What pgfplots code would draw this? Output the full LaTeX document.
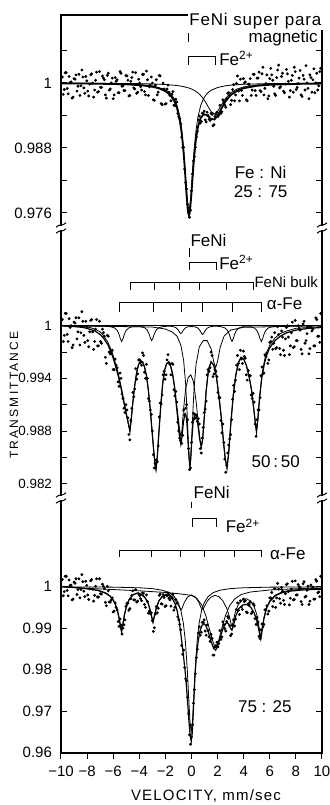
\documentclass[border=0pt]{standalone}
\usepackage{fontspec}
\setmainfont{Liberation Sans}
\newfontfamily\spacedfont[LetterSpace=18]{Liberation Sans}
\newfontfamily\spacedfontb[LetterSpace=8]{Liberation Sans}
\newfontfamily\spacedfontc[LetterSpace=5]{Liberation Sans}
\usepackage{pgfplots}
\pgfplotsset{compat=1.18}
\pgfplotsset{
  panel/.style={
    scale only axis, width=130.5pt, anchor=south west, xmin=-10, xmax=10,
    separate axis lines, x axis line style={draw=none},
    y axis line style={line width=0.7pt},
    tick align=inside, major tick length=3pt, minor tick length=3pt,
    every tick/.style={black, line width=0.5pt},
    clip=false,
    yticklabel style={font=\fontsize{7.5}{9}\selectfont, xshift=-1pt},
    xticklabel style={font=\fontsize{7.5}{9}\selectfont},
  },
  dots/.style={only marks, mark=*, mark size=0.5pt, black},
  fit/.style={black, line width=0.9pt, no marks},
  mfit/.style={black, line width=0.6pt, no marks},
  thin/.style={black, line width=0.4pt, no marks},
}
\newcommand{\ann}{\fontsize{8.5}{10}\selectfont}
\begin{document}
\begin{tikzpicture}[x=1pt,y=1pt]
\useasboundingbox (0,0) rectangle (164.5,402.5);
% ---------------- top panel: Fe:Ni 25:75
\begin{axis}[panel, at={(30.5pt,288.5pt)}, height=106.5pt,
  ymin=0.97323, ymax=1.01255, xtick=\empty,
  ytick={0.976,0.988,1}, yticklabels={0.976,0.988,1},
  minor ytick={0.982,0.994,1.006}]
\addplot[dots] coordinates {(-9.9,1.0011) (-9.75,0.9988) (-9.6,1.0019) (-9.45,0.9980) (-9.3,1.0001) (-9.15,0.9972) (-9.0,1.0008) (-8.85,1.0015) (-8.7,0.9994) (-8.55,0.9977) (-8.4,1.0024) (-8.25,0.9991) (-8.1,1.0012) (-7.95,0.9985) (-7.8,0.9998) (-7.65,1.0017) (-7.5,0.9974) (-7.35,1.0005) (-7.2,0.9983) (-7.05,1.0021) (-6.9,0.9992) (-6.75,1.0009) (-6.6,0.9978) (-6.45,1.0014) (-6.3,0.9987) (-6.15,1.0000) (-6.0,0.9971) (-5.85,1.0010) (-5.7,1.0006) (-5.55,0.9982) (-5.4,1.0018) (-5.25,0.9995) (-5.1,0.9986) (-4.95,1.0013) (-4.8,0.9976) (-4.65,1.0003) (-4.5,1.0020) (-4.35,0.9989) (-4.2,0.9981) (-4.05,1.0007) (-3.9,0.9993) (-3.75,1.0016) (-3.6,0.9984) (-3.45,1.0022) (-3.3,0.9977) (-3.15,0.9996) (-3.0,1.0000) (-2.85,0.9968) (-2.7,1.0006) (-2.55,0.9983) (-2.4,1.0013) (-2.25,0.9960) (-2.1,0.9989) (-1.95,0.9962) (-1.8,0.9996) (-1.65,0.9977) (-1.5,0.9979) (-1.35,0.9959) (-1.2,0.9970) (-1.05,0.9944) (-0.9,0.9934) (-0.75,0.9900) (-0.6,0.9881) (-0.45,0.9816) (-0.3,0.9776) (-0.15,0.9752) (0,0.9801) (0.15,0.9856) (0.3,0.9881) (0.45,0.9911) (0.6,0.9939) (0.75,0.9929) (0.9,0.9944) (1.05,0.9932) (1.2,0.9946) (1.35,0.9933) (1.5,0.9944) (1.65,0.9921) (1.8,0.9938) (1.95,0.9946) (2.1,0.9941) (2.25,0.9944) (2.4,0.9969) (2.55,0.9959) (2.7,0.9970) (2.85,0.9982) (3.0,0.9960) (3.15,0.9988) (3.3,0.9967) (3.45,0.9999) (3.6,0.9985) (3.75,1.0007) (3.9,0.9977) (4.05,1.0000) (4.2,0.9969) (4.35,0.9998) (4.5,1.0008) (4.65,0.9987) (4.8,1.0016) (4.95,0.9977) (5.1,1.0009) (5.25,0.9986) (5.4,1.0017) (5.55,0.9978) (5.7,0.9999) (5.85,0.9971) (6.0,1.0008) (6.15,1.0015) (6.3,0.9994) (6.45,0.9977) (6.6,1.0024) (6.75,0.9991) (6.9,1.0012) (7.05,0.9985) (7.2,0.9998) (7.35,1.0017) (7.5,0.9974) (7.65,1.0005) (7.8,0.9983) (7.95,1.0021) (8.1,0.9992) (8.25,1.0009) (8.4,0.9978) (8.55,1.0014) (8.7,0.9987) (8.85,1.0000) (9.0,0.9971) (9.15,1.0010) (9.3,1.0006) (9.45,0.9982) (9.6,1.0018) (9.75,0.9995) (9.9,1.0027)};
\addplot[dots] coordinates {(-9.825,0.9979) (-9.675,1.0019) (-9.525,0.9990) (-9.375,1.0012) (-9.225,1.0002) (-9.075,0.9974) (-8.925,1.0007) (-8.775,0.9985) (-8.625,1.0016) (-8.475,0.9995) (-8.325,1.0011) (-8.175,0.9981) (-8.025,1.0004) (-7.875,0.9976) (-7.725,1.0015) (-7.575,1.0000) (-7.425,0.9987) (-7.275,1.0020) (-7.125,0.9984) (-6.975,0.9992) (-6.825,1.0013) (-6.675,1.0006) (-6.525,0.9972) (-6.375,1.0018) (-6.225,0.9989) (-6.075,1.0009) (-5.925,0.9978) (-5.775,1.0003) (-5.625,0.9982) (-5.475,1.0021) (-5.325,0.9994) (-5.175,0.9986) (-5.025,1.0014) (-4.875,1.0005) (-4.725,0.9977) (-4.575,1.0010) (-4.425,0.9991) (-4.275,1.0019) (-4.125,0.9983) (-3.975,1.0000) (-3.825,0.9987) (-3.675,1.0016) (-3.525,0.9978) (-3.375,1.0006) (-3.225,0.9993) (-3.075,1.0011) (-2.925,0.9969) (-2.775,0.9996) (-2.625,0.9978) (-2.475,1.0014) (-2.325,0.9962) (-2.175,1.0000) (-2.025,0.9961) (-1.875,0.9989) (-1.725,0.9983) (-1.575,0.9967) (-1.425,0.9984) (-1.275,0.9958) (-1.125,0.9965) (-0.975,0.9938) (-0.825,0.9925) (-0.675,0.9881) (-0.525,0.9841) (-0.375,0.9804) (-0.225,0.9762) (-0.075,0.9765) (0.075,0.9832) (0.225,0.9864) (0.375,0.9900) (0.525,0.9932) (0.675,0.9926) (0.825,0.9944) (0.975,0.9948) (1.125,0.9928) (1.275,0.9940) (1.425,0.9931) (1.575,0.9942) (1.725,0.9923) (1.875,0.9942) (2.025,0.9938) (2.175,0.9959) (2.325,0.9947) (2.475,0.9965) (2.625,0.9955) (2.775,0.9981) (2.925,0.9977) (3.075,0.9968) (3.225,0.9997) (3.375,0.9978) (3.525,1.0013) (3.675,0.9967) (3.825,0.9986) (3.975,1.0008) (4.125,1.0002) (4.275,0.9967) (4.425,0.9997) (4.575,0.9977) (4.725,1.0016) (4.875,0.9986) (5.025,1.0009) (5.175,1.0020) (5.325,0.9984) (5.475,1.0029) (5.625,0.9990) (5.775,1.0015) (5.925,0.9976) (6.075,1.0027) (6.225,1.0005) (6.375,0.9980) (6.525,1.0010) (6.675,1.0033) (6.825,0.9993) (6.975,1.0018) (7.125,0.9982) (7.275,1.0025) (7.425,1.0003) (7.575,0.9986) (7.725,1.0014) (7.875,1.0029) (8.025,0.9988) (8.175,0.9999) (8.325,1.0023) (8.475,0.9975) (8.625,1.0007) (8.775,1.0032) (8.925,0.9990) (9.075,1.0015) (9.225,0.9983) (9.375,1.0026) (9.525,1.0000) (9.675,0.9987) (9.825,1.0021)};
% singlet component
\addplot[thin] coordinates {(-10,0.99996) (-6,0.99988) (-4,0.99972) (-3,0.99948) (-2,0.99879) (-1.6,0.99806) (-1.3,0.99701) (-1.1,0.9958) (-0.9,0.99378) (-0.75,0.99134) (-0.6,0.98768) (-0.5,0.98444) (-0.4,0.98085) (-0.3,0.97776) (-0.2,0.9765) (-0.1,0.97776) (0,0.98085) (0.1,0.98444) (0.2,0.98768) (0.35,0.99134) (0.5,0.99378) (0.7,0.9958) (0.9,0.99701) (1.1,0.99778) (1.3,0.99829) (1.5,0.99865) (2,0.99917) (2.6,0.99948) (3,0.9996) (4,0.99977) (6,0.99989) (10,0.99996)};
% Fe2+ component
\addplot[thin] coordinates {(-10,0.99997) (-6,0.99993) (-4,0.99988) (-3,0.99982) (-2,0.99972) (-1.3,0.99958) (-0.9,0.99946) (-0.5,0.99927) (-0.2,0.99907) (0,0.99889) (0.2,0.99866) (0.35,0.99844) (0.5,0.99817) (0.7,0.99771) (0.9,0.99712) (1.1,0.99637) (1.3,0.99552) (1.5,0.99474) (1.75,0.9943) (2.0,0.99474) (2.3,0.99596) (2.6,0.99712) (3.0,0.99817) (3.5,0.99889) (4,0.99927) (5,0.99963) (6,0.99978) (8,0.99989) (10,0.99994)};
% total fit
\addplot[fit] coordinates {(-10,0.99993) (-8,0.99989) (-6,0.99981) (-5,0.99976) (-4,0.99959) (-3.5,0.99948) (-3,0.99930) (-2.5,0.99902) (-2,0.99850) (-1.6,0.99771) (-1.3,0.99659) (-1.1,0.99532) (-0.9,0.99324) (-0.75,0.99074) (-0.6,0.98701) (-0.5,0.98371) (-0.4,0.98006) (-0.3,0.97691) (-0.25,0.97594) (-0.2,0.97557) (-0.15,0.97586) (-0.1,0.97675) (0,0.97974) (0.1,0.98322) (0.2,0.98634) (0.35,0.98978) (0.5,0.99195) (0.7,0.99351) (0.9,0.99413) (1.1,0.99415) (1.3,0.99381) (1.5,0.99339) (1.75,0.99326) (2.0,0.99392) (2.3,0.99531) (2.6,0.99660) (3.0,0.99777) (3.5,0.99859) (4,0.99904) (5,0.99948) (6,0.99967) (8,0.99983) (10,0.99990)};
% markers
\draw[line width=0.5pt] (-0.24,1.0092) -- (-0.24,1.0076);
\draw[line width=0.5pt] (-0.24,1.0033) -- (-0.24,1.0048) -- (1.85,1.0048) -- (1.85,1.0033);
\node[anchor=base west, inner sep=0pt, font=\ann] at (2.1,1.0033) {Fe\textsuperscript{2+}};
\node[anchor=base east, inner sep=0pt, font=\ann] at (9.7,1.0074) {magnetic};
\coordinate (fenitop) at (-0.29,1.0107);
\node[anchor=base, inner sep=0pt, font=\ann] at (5.3,0.98246) {Fe : Ni};
\node[anchor=base, inner sep=0pt, font=\ann] at (5.3,0.97877) {25 : 75};
\end{axis}
% ---------------- middle panel: 50:50
\begin{axis}[panel, at={(30.5pt,153.5pt)}, height=135pt,
  ymin=0.98037, ymax=1.01113, xtick=\empty,
  ytick={0.982,0.988,0.994,1}, yticklabels={0.982,0.988,0.994,1},
  minor ytick={0.985,0.991,0.997},
  yticklabel style={font=\fontsize{6.7}{8}\selectfont}]
\addplot[dots] coordinates {(-9.9,1.0007) (-9.75,0.9989) (-9.6,1.0014) (-9.45,0.9982) (-9.3,0.9998) (-9.15,0.9975) (-9.0,1.0004) (-8.85,1.0009) (-8.7,0.9993) (-8.55,0.9978) (-8.4,1.0016) (-8.25,0.9989) (-8.1,1.0005) (-7.95,0.9983) (-7.8,0.9993) (-7.65,1.0007) (-7.5,0.9973) (-7.35,0.9996) (-7.2,0.9977) (-7.05,1.0005) (-6.9,0.9980) (-6.75,0.9992) (-6.6,0.9964) (-6.45,0.9989) (-6.3,0.9970) (-6.15,0.9970) (-6.0,0.9950) (-5.85,0.9962) (-5.7,0.9952) (-5.55,0.9931) (-5.4,0.9940) (-5.25,0.9917) (-5.1,0.9901) (-4.95,0.9904) (-4.8,0.9876) (-4.65,0.9892) (-4.5,0.9924) (-4.35,0.9928) (-4.2,0.9939) (-4.05,0.9961) (-3.9,0.9958) (-3.75,0.9969) (-3.6,0.9947) (-3.45,0.9956) (-3.3,0.9917) (-3.15,0.9904) (-3.0,0.9880) (-2.85,0.9838) (-2.7,0.9847) (-2.55,0.9863) (-2.4,0.9912) (-2.25,0.9921) (-2.1,0.9948) (-1.95,0.9944) (-1.8,0.9967) (-1.65,0.9956) (-1.5,0.9957) (-1.35,0.9927) (-1.2,0.9925) (-1.05,0.9890) (-0.9,0.9872) (-0.75,0.9866) (-0.6,0.9904) (-0.45,0.9906) (-0.3,0.9893) (-0.15,0.9836) (0,0.9867) (0.15,0.9900) (0.3,0.9895) (0.45,0.9891) (0.6,0.9888) (0.75,0.9855) (0.9,0.9884) (1.05,0.9905) (1.2,0.9944) (1.35,0.9948) (1.5,0.9970) (1.65,0.9942) (1.8,0.9950) (1.95,0.9942) (2.1,0.9918) (2.25,0.9892) (2.4,0.9888) (2.55,0.9848) (2.7,0.9841) (2.85,0.9864) (3.0,0.9876) (3.15,0.9916) (3.3,0.9925) (3.45,0.9955) (3.6,0.9957) (3.75,0.9972) (3.9,0.9957) (4.05,0.9965) (4.2,0.9944) (4.35,0.9949) (4.5,0.9943) (4.65,0.9917) (4.8,0.9913) (4.95,0.9874) (5.1,0.9904) (5.25,0.9918) (5.4,0.9953) (5.55,0.9946) (5.7,0.9965) (5.85,0.9957) (6.0,0.9981) (6.15,0.9987) (6.3,0.9980) (6.45,0.9974) (6.6,0.9999) (6.75,0.9974) (6.9,0.9994) (7.05,0.9972) (7.2,0.9985) (7.35,1.0000) (7.5,0.9967) (7.65,0.9992) (7.8,0.9975) (7.95,1.0006) (8.1,0.9983) (8.25,0.9997) (8.4,0.9973) (8.55,1.0002) (8.7,0.9980) (8.85,0.9991) (9.0,0.9968) (9.15,0.9999) (9.3,0.9996) (9.45,0.9977) (9.6,1.0007) (9.75,0.9988) (9.9,1.0014)};
\addplot[dots] coordinates {(-9.825,0.9982) (-9.675,1.0014) (-9.525,0.9990) (-9.375,1.0008) (-9.225,1.0000) (-9.075,0.9978) (-8.925,1.0003) (-8.775,0.9985) (-8.625,1.0009) (-8.475,0.9992) (-8.325,1.0005) (-8.175,0.9981) (-8.025,0.9999) (-7.875,0.9976) (-7.725,1.0006) (-7.575,0.9993) (-7.425,0.9982) (-7.275,1.0007) (-7.125,0.9977) (-6.975,0.9982) (-6.825,0.9996) (-6.675,0.9988) (-6.525,0.9957) (-6.375,0.9988) (-6.225,0.9968) (-6.075,0.9972) (-5.925,0.9950) (-5.775,0.9955) (-5.625,0.9936) (-5.475,0.9946) (-5.325,0.9922) (-5.175,0.9906) (-5.025,0.9910) (-4.875,0.9895) (-4.725,0.9870) (-4.575,0.9906) (-4.425,0.9919) (-4.275,0.9951) (-4.125,0.9945) (-3.975,0.9961) (-3.825,0.9955) (-3.675,0.9966) (-3.525,0.9940) (-3.375,0.9940) (-3.225,0.9914) (-3.075,0.9899) (-2.925,0.9853) (-2.775,0.9843) (-2.625,0.9845) (-2.475,0.9896) (-2.325,0.9911) (-2.175,0.9944) (-2.025,0.9939) (-1.875,0.9961) (-1.725,0.9958) (-1.575,0.9944) (-1.425,0.9956) (-1.275,0.9920) (-1.125,0.9913) (-0.975,0.9880) (-0.825,0.9869) (-0.675,0.9875) (-0.525,0.9898) (-0.375,0.9910) (-0.225,0.9860) (-0.075,0.9838) (0.075,0.9890) (0.225,0.9894) (0.375,0.9898) (0.525,0.9894) (0.675,0.9860) (0.825,0.9872) (0.975,0.9901) (1.125,0.9914) (1.275,0.9950) (1.425,0.9952) (1.575,0.9966) (1.725,0.9945) (1.875,0.9948) (2.025,0.9924) (2.175,0.9918) (2.325,0.9878) (2.475,0.9867) (2.625,0.9833) (2.775,0.9855) (2.925,0.9871) (3.075,0.9893) (3.225,0.9932) (3.375,0.9938) (3.525,0.9966) (3.675,0.9950) (3.825,0.9962) (3.975,0.9971) (4.125,0.9963) (4.275,0.9938) (4.425,0.9943) (4.575,0.9921) (4.725,0.9923) (4.875,0.9888) (5.025,0.9893) (5.175,0.9904) (5.325,0.9943) (5.475,0.9945) (5.625,0.9967) (5.775,0.9969) (5.925,0.9961) (6.075,0.9982) (6.225,0.9973) (6.375,0.9992) (6.525,0.9975) (6.675,0.9990) (6.825,0.9967) (6.975,0.9987) (7.125,0.9966) (7.275,0.9998) (7.425,0.9987) (7.575,0.9977) (7.725,1.0004) (7.875,0.9976) (8.025,0.9983) (8.175,1.0000) (8.325,0.9995) (8.475,0.9968) (8.625,1.0005) (8.775,0.9983) (8.925,0.9999) (9.075,0.9974) (9.225,0.9994) (9.375,0.9977) (9.525,1.0009) (9.675,0.9988) (9.825,0.9981)};
% baseline
\addplot[thin] coordinates {(-10,1) (10,1)};
% alpha-Fe component
\addplot[thin] coordinates {(-10,1) (-6.55,0.99994) (-6.15,0.99987) (-5.9,0.99975) (-5.7,0.99949) (-5.55,0.99901) (-5.45,0.99851) (-5.35,0.9982) (-5.25,0.99851) (-5.15,0.99901) (-5.0,0.99949) (-4.8,0.99975) (-4.55,0.99987) (-4.2,0.99988) (-3.85,0.99988) (-3.6,0.99977) (-3.4,0.99952) (-3.25,0.99907) (-3.15,0.99859) (-3.05,0.9983) (-2.95,0.99859) (-2.85,0.99907) (-2.7,0.99952) (-2.5,0.99977) (-2.25,0.99988) (-1.85,0.99994) (-1.62,0.99994) (-1.37,0.99988) (-1.17,0.99975) (-1.02,0.99951) (-0.92,0.99925) (-0.82,0.9991) (-0.72,0.99925) (-0.62,0.99951) (-0.47,0.99975) (-0.27,0.99988) (0.02,0.9999) (0.3,0.99986) (0.5,0.99972) (0.65,0.99945) (0.75,0.99917) (0.85,0.999) (0.95,0.99917) (1.05,0.99945) (1.2,0.99972) (1.4,0.99986) (1.65,0.99993) (2.0,0.99994) (2.3,0.99987) (2.55,0.99975) (2.75,0.99949) (2.9,0.99901) (3.0,0.99851) (3.1,0.9982) (3.2,0.99851) (3.3,0.99901) (3.45,0.99949) (3.65,0.99975) (3.9,0.99987) (4.225,0.99988) (4.55,0.99987) (4.8,0.99975) (5.0,0.99949) (5.15,0.99901) (5.25,0.99851) (5.35,0.9982) (5.45,0.99851) (5.55,0.99901) (5.7,0.99949) (5.9,0.99975) (6.15,0.99987) (6.55,0.99994) (10,1)};
% FeNi singlet + Fe2+ component
\addplot[thin] coordinates {(-10,1) (-3,0.99985) (-2,0.99962) (-1.5,0.9993) (-1.1,0.9988) (-0.8,0.9977) (-0.6,0.9960) (-0.45,0.9934) (-0.35,0.99057) (-0.25,0.9870) (-0.18,0.9849) (-0.12,0.9842) (-0.06,0.9849) (0,0.9865) (0.1,0.9900) (0.2,0.9929) (0.35,0.9956) (0.6,0.9976) (0.9,0.99830) (1.2,0.9983) (1.5,0.99737) (1.7,0.9959) (1.85,0.99523) (2.0,0.99596) (2.2,0.99755) (2.5,0.99883) (3,0.9995) (4,0.99982) (10,1)};
% FeNi bulk component
\addplot[thin] coordinates {(-10,1.0000) (-9,0.9999) (-8.3,0.9999) (-7.8,0.9998) (-7.4,0.9996) (-7.0,0.9993) (-6.7,0.9988) (-6.4,0.9981) (-6.2,0.9974) (-6.0,0.9966) (-5.8,0.9956) (-5.6,0.9945) (-5.4,0.9931) (-5.2,0.9916) (-5.05,0.9904) (-4.92,0.9895) (-4.82,0.9887) (-4.72,0.9880) (-4.62,0.9893) (-4.5,0.9912) (-4.35,0.9932) (-4.2,0.9947) (-4.05,0.9956) (-3.9,0.9960) (-3.75,0.9959) (-3.6,0.9953) (-3.45,0.9943) (-3.3,0.9926) (-3.15,0.9903) (-3.0,0.9876) (-2.88,0.9855) (-2.8,0.9842) (-2.72,0.9836) (-2.62,0.9851) (-2.5,0.9878) (-2.35,0.9910) (-2.2,0.9935) (-2.05,0.9950) (-1.9,0.9957) (-1.75,0.9958) (-1.6,0.9954) (-1.45,0.9945) (-1.3,0.9931) (-1.15,0.9912) (-1.0,0.9893) (-0.9,0.9880) (-0.82,0.9874) (-0.74,0.9880) (-0.62,0.9903) (-0.45,0.9928) (-0.25,0.9941) (-0.05,0.9944) (0.15,0.9936) (0.35,0.9914) (0.5,0.9892) (0.65,0.9870) (0.75,0.9862) (0.85,0.9870) (0.98,0.9895) (1.12,0.9925) (1.3,0.9950) (1.5,0.9959) (1.7,0.9955) (1.9,0.9943) (2.1,0.9920) (2.3,0.9893) (2.45,0.9868) (2.58,0.9849) (2.72,0.9838) (2.85,0.9855) (3.0,0.9886) (3.2,0.9921) (3.4,0.9944) (3.6,0.9958) (3.8,0.9964) (4.0,0.9962) (4.2,0.9955) (4.4,0.9943) (4.6,0.9927) (4.75,0.9908) (4.88,0.9891) (4.98,0.9879) (5.08,0.9893) (5.22,0.9919) (5.4,0.9944) (5.6,0.9961) (5.8,0.9971) (6.0,0.9978) (6.4,0.9986) (6.8,0.9991) (7.3,0.9994) (8,0.9997) (9,0.9998) (10,0.9999)};
% total fit
\addplot[mfit] coordinates {(-10,1.0000) (-9,0.9999) (-8.3,0.9998) (-7.8,0.9996) (-7.4,0.9994) (-7.0,0.9990) (-6.7,0.9985) (-6.4,0.9978) (-6.2,0.9971) (-6.0,0.9963) (-5.8,0.9953) (-5.6,0.9942) (-5.4,0.9929) (-5.2,0.9914) (-5.05,0.9903) (-4.92,0.9894) (-4.82,0.9887) (-4.72,0.9880) (-4.62,0.9893) (-4.5,0.9912) (-4.35,0.9932) (-4.2,0.9947) (-4.05,0.9956) (-3.9,0.9960) (-3.75,0.9959) (-3.6,0.9953) (-3.45,0.9943) (-3.3,0.9926) (-3.15,0.9903) (-3.0,0.9876) (-2.88,0.9855) (-2.8,0.9842) (-2.72,0.9836) (-2.62,0.9851) (-2.5,0.9878) (-2.35,0.9910) (-2.2,0.9935) (-2.05,0.9950) (-1.9,0.9957) (-1.75,0.9958) (-1.6,0.9954) (-1.45,0.9945) (-1.3,0.9930) (-1.15,0.9908) (-1.0,0.9886) (-0.9,0.9872) (-0.82,0.9865) (-0.74,0.9872) (-0.62,0.9890) (-0.5,0.9900) (-0.42,0.9898) (-0.34,0.9887) (-0.26,0.9866) (-0.18,0.9848) (-0.12,0.9839) (-0.06,0.9848) (0.02,0.9870) (0.12,0.9890) (0.25,0.9900) (0.35,0.9899) (0.45,0.9892) (0.55,0.9880) (0.65,0.9869) (0.75,0.9862) (0.85,0.9870) (0.98,0.9895) (1.12,0.9925) (1.3,0.9950) (1.5,0.9959) (1.7,0.9955) (1.9,0.9943) (2.1,0.9920) (2.3,0.9893) (2.45,0.9868) (2.58,0.9849) (2.72,0.9838) (2.85,0.9855) (3.0,0.9886) (3.2,0.9921) (3.4,0.9944) (3.6,0.9958) (3.8,0.9964) (4.0,0.9962) (4.2,0.9955) (4.4,0.9943) (4.6,0.9927) (4.75,0.9908) (4.88,0.9891) (4.98,0.9879) (5.08,0.9893) (5.22,0.9918) (5.4,0.9942) (5.6,0.9958) (5.8,0.9968) (6.0,0.9975) (6.4,0.9983) (6.8,0.9988) (7.3,0.9992) (8.0,0.9995) (9.0,0.9997) (10,0.9998)};
% markers
\node[anchor=base west, inner sep=0pt, font=\ann] at (-0.1,1.0090) {FeNi};
\draw[line width=0.5pt] (-0.14,1.00885) -- (-0.14,1.00783);
\draw[line width=0.5pt] (-0.19,1.00635) -- (-0.19,1.00718) -- (1.9,1.00718) -- (1.9,1.00635);
\node[anchor=base west, inner sep=0pt, font=\ann] at (2.1,1.0064) {Fe\textsuperscript{2+}};
\draw[line width=0.5pt] (-4.65,1.00407) -- (-4.65,1.0049) -- (4.72,1.0049) -- (4.72,1.00407);
\draw[line width=0.5pt] (-2.8,1.0049) -- (-2.8,1.00407);
\draw[line width=0.5pt] (-0.91,1.0049) -- (-0.91,1.00407);
\draw[line width=0.5pt] (0.64,1.0049) -- (0.64,1.00407);
\draw[line width=0.5pt] (2.72,1.0049) -- (2.72,1.00407);
\node[anchor=base west, inner sep=0pt, font=\fontsize{7.5}{9}\selectfont] at (4.8,1.0043) {FeNi bulk};
\draw[line width=0.5pt] (-5.5,1.0016) -- (-5.5,1.00267) -- (5.36,1.00267) -- (5.36,1.0016);
\draw[line width=0.5pt] (-2.95,1.00267) -- (-2.95,1.0016);
\draw[line width=0.5pt] (-0.79,1.00267) -- (-0.79,1.0016);
\draw[line width=0.5pt] (0.87,1.00267) -- (0.87,1.0016);
\draw[line width=0.5pt] (3.13,1.00267) -- (3.13,1.0016);
\node[anchor=base west, inner sep=0pt, font=\ann] at (5.75,1.0019) {α-Fe};
\node[anchor=base, inner sep=0pt, font=\ann] at (6.45,0.98379) {50\,:\,50};
\end{axis}
% ---------------- bottom panel: 75:25
\begin{axis}[panel, at={(30.5pt,26pt)}, height=127.5pt,
  ymin=0.9599, ymax=1.02137,
  ytick={0.96,0.97,0.98,0.99,1}, yticklabels={0.96,0.97,0.98,0.99,1},
  xtick={-10,-8,...,10}, xticklabels={−10,−8,−6,−4,−2,0,2,4,6,8,10},
  xtick pos=left, xtick align=outside]
\addplot[dots] coordinates {(-9.9,1.0017) (-9.75,0.9988) (-9.6,1.0025) (-9.45,0.9978) (-9.3,1.0003) (-9.15,0.9968) (-9.0,1.0011) (-8.85,1.0019) (-8.7,0.9993) (-8.55,0.9973) (-8.4,1.0029) (-8.25,0.9989) (-8.1,1.0013) (-7.95,0.9980) (-7.8,0.9995) (-7.65,1.0017) (-7.5,0.9965) (-7.35,1.0001) (-7.2,0.9975) (-7.05,1.0019) (-6.9,0.9982) (-6.75,1.0001) (-6.6,0.9962) (-6.45,1.0001) (-6.3,0.9963) (-6.15,0.9968) (-6.0,0.9939) (-5.85,0.9961) (-5.7,0.9944) (-5.55,0.9904) (-5.4,0.9907) (-5.25,0.9900) (-5.1,0.9920) (-4.95,0.9960) (-4.8,0.9943) (-4.65,0.9971) (-4.5,0.9990) (-4.35,0.9968) (-4.2,0.9963) (-4.05,0.9983) (-3.9,0.9971) (-3.75,0.9985) (-3.6,0.9957) (-3.45,0.9980) (-3.3,0.9936) (-3.15,0.9935) (-3.0,0.9918) (-2.85,0.9901) (-2.7,0.9952) (-2.55,0.9948) (-2.4,0.9982) (-2.25,0.9958) (-2.1,0.9974) (-1.95,0.9954) (-1.8,0.9985) (-1.65,0.9968) (-1.5,0.9973) (-1.35,0.9943) (-1.2,0.9969) (-1.05,0.9927) (-0.9,0.9909) (-0.75,0.9858) (-0.6,0.9847) (-0.45,0.9778) (-0.3,0.9733) (-0.15,0.9643) (0,0.9638) (0.15,0.9719) (0.3,0.9790) (0.45,0.9849) (0.6,0.9903) (0.75,0.9890) (0.9,0.9914) (1.05,0.9893) (1.2,0.9908) (1.35,0.9879) (1.5,0.9885) (1.65,0.9835) (1.8,0.9855) (1.95,0.9866) (2.1,0.9863) (2.25,0.9873) (2.4,0.9915) (2.55,0.9899) (2.7,0.9916) (2.85,0.9924) (3.0,0.9882) (3.15,0.9906) (3.3,0.9905) (3.45,0.9945) (3.6,0.9943) (3.75,0.9966) (3.9,0.9945) (4.05,0.9964) (4.2,0.9939) (4.35,0.9959) (4.5,0.9963) (4.65,0.9939) (4.8,0.9955) (4.95,0.9909) (5.1,0.9915) (5.25,0.9875) (5.4,0.9910) (5.55,0.9909) (5.7,0.9945) (5.85,0.9934) (6.0,0.9973) (6.15,0.9986) (6.3,0.9965) (6.45,0.9950) (6.6,1.0008) (6.75,0.9971) (6.9,0.9998) (7.05,0.9967) (7.2,0.9983) (7.35,1.0007) (7.5,0.9956) (7.65,0.9994) (7.8,0.9968) (7.95,1.0014) (8.1,0.9980) (8.25,1.0000) (8.4,0.9964) (8.55,1.0007) (8.7,0.9975) (8.85,0.9991) (9.0,0.9957) (9.15,1.0004) (9.3,0.9999) (9.45,0.9970) (9.6,1.0013) (9.75,0.9987) (9.9,1.0025)};
\addplot[dots] coordinates {(-9.825,0.9978) (-9.675,1.0025) (-9.525,0.9991) (-9.375,1.0016) (-9.225,1.0004) (-9.075,0.9970) (-8.925,1.0008) (-8.775,0.9981) (-8.625,1.0019) (-8.475,0.9993) (-8.325,1.0012) (-8.175,0.9976) (-8.025,1.0003) (-7.875,0.9969) (-7.725,1.0014) (-7.575,0.9994) (-7.425,0.9979) (-7.275,1.0019) (-7.125,0.9975) (-6.975,0.9983) (-6.825,1.0006) (-6.675,0.9995) (-6.525,0.9954) (-6.375,0.9990) (-6.225,0.9963) (-6.075,0.9973) (-5.925,0.9941) (-5.775,0.9950) (-5.625,0.9916) (-5.475,0.9922) (-5.325,0.9886) (-5.175,0.9908) (-5.025,0.9953) (-4.875,0.9960) (-4.725,0.9947) (-4.575,0.9979) (-4.425,0.9968) (-4.275,0.9993) (-4.125,0.9965) (-3.975,0.9978) (-3.825,0.9966) (-3.675,0.9984) (-3.525,0.9950) (-3.375,0.9964) (-3.225,0.9941) (-3.075,0.9937) (-2.925,0.9892) (-2.775,0.9934) (-2.625,0.9937) (-2.475,0.9979) (-2.325,0.9959) (-2.175,0.9981) (-2.025,0.9952) (-1.875,0.9978) (-1.725,0.9972) (-1.575,0.9953) (-1.425,0.9982) (-1.275,0.9950) (-1.125,0.9960) (-0.975,0.9920) (-0.825,0.9896) (-0.675,0.9837) (-0.525,0.9805) (-0.375,0.9773) (-0.225,0.9694) (-0.075,0.9620) (0.075,0.9667) (0.225,0.9752) (0.375,0.9829) (0.525,0.9888) (0.675,0.9883) (0.825,0.9914) (0.975,0.9920) (1.125,0.9883) (1.275,0.9894) (1.425,0.9868) (1.575,0.9875) (1.725,0.9835) (1.875,0.9858) (2.025,0.9855) (2.175,0.9894) (2.325,0.9879) (2.475,0.9909) (2.625,0.9893) (2.775,0.9928) (2.925,0.9906) (3.075,0.9886) (3.225,0.9920) (3.375,0.9922) (3.525,0.9961) (3.675,0.9933) (3.825,0.9951) (3.975,0.9970) (4.125,0.9966) (4.275,0.9937) (4.425,0.9956) (4.575,0.9935) (4.725,0.9959) (4.875,0.9923) (5.025,0.9926) (5.175,0.9880) (5.325,0.9896) (5.475,0.9903) (5.625,0.9944) (5.775,0.9954) (5.925,0.9941) (6.075,0.9973) (6.225,0.9952) (6.375,0.9995) (6.525,0.9973) (6.675,0.9994) (6.825,0.9960) (6.975,0.9989) (7.125,0.9957) (7.275,1.0005) (7.425,0.9988) (7.575,0.9972) (7.725,1.0013) (7.875,0.9969) (8.025,0.9980) (8.175,1.0005) (8.325,0.9997) (8.475,0.9957) (8.625,1.0012) (8.775,0.9977) (8.925,1.0001) (9.075,0.9965) (9.225,0.9995) (9.375,0.9970) (9.525,1.0017) (9.675,0.9985) (9.825,0.9976)};
% Fe2+ component with sloping base
\addplot[thin] coordinates {(-10,1.0) (-8,0.9996) (-6,0.9993) (-4,0.9990) (-2,0.9986) (-1,0.9983) (0,0.9979) (0.4,0.9972) (0.8,0.9955) (1.1,0.9930) (1.4,0.9895) (1.6,0.9872) (1.75,0.9858) (1.85,0.9853) (1.95,0.9858) (2.1,0.9872) (2.3,0.9897) (2.6,0.9930) (2.9,0.9953) (3.3,0.9970) (3.8,0.9981) (4.5,0.9987) (6,0.9992) (8,0.9995) (10,0.9997)};
% FeNi singlet component
\addplot[thin] coordinates {(-10,0.99996) (-6.02,0.99988) (-4.02,0.99973) (-3.02,0.99953) (-2.22,0.99914) (-1.72,0.99858) (-1.32,0.99763) (-1.02,0.99618) (-0.82,0.99437) (-0.62,0.99111) (-0.47,0.9868) (-0.32,0.97983) (-0.22,0.97362) (-0.12,0.96764) (-0.02,0.965) (0.08,0.96764) (0.18,0.97362) (0.28,0.97983) (0.43,0.9868) (0.58,0.99111) (0.78,0.99437) (0.98,0.99618) (1.28,0.99763) (1.68,0.99858) (2.18,0.99914) (2.98,0.99953) (3.98,0.99973) (5.98,0.99988) (10,0.99996)};
% alpha-Fe component
\addplot[thin] coordinates {(-10,1.0) (-9,0.9998) (-8,0.9995) (-7.2,0.9991) (-6.6,0.9984) (-6.2,0.9976) (-5.9,0.9962) (-5.7,0.9945) (-5.55,0.9925) (-5.45,0.9905) (-5.36,0.9892) (-5.26,0.9908) (-5.14,0.9932) (-4.95,0.9957) (-4.7,0.9973) (-4.4,0.9982) (-4.15,0.9985) (-3.9,0.9983) (-3.6,0.9976) (-3.35,0.9963) (-3.18,0.9945) (-3.05,0.9927) (-2.95,0.9915) (-2.85,0.9928) (-2.7,0.9948) (-2.5,0.9965) (-2.25,0.9976) (-1.95,0.9982) (-1.7,0.9981) (-1.45,0.9975) (-1.2,0.9965) (-1.0,0.9955) (-0.88,0.9947) (-0.8,0.9944) (-0.72,0.9948) (-0.55,0.9962) (-0.3,0.9975) (0,0.9980) (0.3,0.9975) (0.55,0.9963) (0.72,0.9950) (0.85,0.9945) (0.98,0.9951) (1.2,0.9965) (1.5,0.9975) (1.8,0.9979) (2.1,0.9976) (2.4,0.9966) (2.7,0.9948) (2.9,0.9928) (3.02,0.9912) (3.1,0.9905) (3.2,0.9916) (3.35,0.9938) (3.6,0.9958) (3.9,0.9968) (4.2,0.9971) (4.5,0.9966) (4.8,0.9952) (5.0,0.9933) (5.15,0.9908) (5.24,0.9890) (5.31,0.9876) (5.4,0.9894) (5.55,0.9925) (5.75,0.9950) (6.0,0.9966) (6.4,0.9979) (6.9,0.9987) (7.5,0.9991) (8.5,0.9994) (10,0.9996)};
% total fit
\addplot[mfit] coordinates {(-10,1.0000) (-9,0.9998) (-8,0.9995) (-7.13,0.9991) (-6.6,0.9985) (-6.26,0.9978) (-6.0,0.9968) (-5.83,0.9958) (-5.68,0.9943) (-5.56,0.9926) (-5.45,0.9906) (-5.36,0.9891) (-5.26,0.9908) (-5.14,0.9932) (-5.0,0.9950) (-4.8,0.9968) (-4.5,0.9980) (-4.17,0.9984) (-3.85,0.9981) (-3.55,0.9973) (-3.3,0.9958) (-3.15,0.9941) (-3.04,0.9926) (-2.95,0.9914) (-2.85,0.9928) (-2.7,0.9948) (-2.5,0.9966) (-2.25,0.9976) (-1.95,0.9980) (-1.7,0.9978) (-1.45,0.9970) (-1.25,0.9958) (-1.1,0.9942) (-0.95,0.9918) (-0.8,0.9882) (-0.65,0.9843) (-0.5,0.9800) (-0.4,0.9765) (-0.3,0.9723) (-0.2,0.9678) (-0.1,0.9640) (-0.02,0.9627) (0.06,0.9648) (0.15,0.9705) (0.25,0.9775) (0.35,0.9822) (0.5,0.9866) (0.65,0.9893) (0.8,0.9906) (0.95,0.9911) (1.1,0.9906) (1.3,0.9890) (1.5,0.9868) (1.7,0.9851) (1.85,0.9847) (2.0,0.9856) (2.2,0.9878) (2.45,0.9902) (2.7,0.9914) (2.85,0.9910) (3.0,0.9899) (3.1,0.9895) (3.2,0.9905) (3.4,0.9930) (3.65,0.9948) (3.95,0.9956) (4.25,0.9957) (4.55,0.9950) (4.8,0.9937) (5.0,0.9918) (5.15,0.9897) (5.25,0.9882) (5.31,0.9874) (5.4,0.9892) (5.55,0.9923) (5.75,0.9948) (6.0,0.9964) (6.45,0.9979) (7.0,0.9986) (7.5,0.9989) (8.5,0.9992) (10,0.9994)};
% markers
\node[anchor=base west, inner sep=0pt, font=\ann] at (0.14,1.02137) {FeNi};
\draw[line width=0.5pt] (0,1.0205) -- (0,1.0189);
\draw[line width=0.5pt] (0.05,1.01446) -- (0.05,1.01648) -- (1.9,1.01648) -- (1.9,1.01446);
\node[anchor=base west, inner sep=0pt, font=\ann] at (2.6,1.01294) {Fe\textsuperscript{2+}};
\draw[line width=0.5pt] (-5.5,1.00723) -- (-5.5,1.00867) -- (5.36,1.00867) -- (5.36,1.00723);
\draw[line width=0.5pt] (-3.08,1.00867) -- (-3.08,1.00723);
\draw[line width=0.5pt] (-0.84,1.00867) -- (-0.84,1.00723);
\draw[line width=0.5pt] (0.98,1.00867) -- (0.98,1.00723);
\draw[line width=0.5pt] (3.28,1.00867) -- (3.28,1.00723);
\node[anchor=base west, inner sep=0pt, font=\ann] at (6.0,1.00643) {α-Fe};
\node[anchor=base, inner sep=0pt, font=\ann] at (5.62,0.96957) {75 : 25};
\end{axis}
% frame
\draw[line width=0.7pt] (30.5,26) rectangle (161,395);
\node[anchor=base west, fill=white, inner sep=0.6pt, font={\spacedfontc\fontsize{8.5}{10}\selectfont}] at (fenitop) {FeNi super para};
% axis breaks
\foreach \yy in {288.5,153.5} {
  \foreach \xx in {30.5,161} {
    \fill[white] (\xx-2.2,\yy-1.2) rectangle (\xx+2.2,\yy+1.2);
    \draw[line width=0.5pt] (\xx-2.5,\yy-2.6) .. controls (\xx-0.5,\yy-0.6) and (\xx+0.5,\yy-2.4) .. (\xx+2.5,\yy-0.4);
    \draw[line width=0.5pt] (\xx-2.5,\yy+0.4) .. controls (\xx-0.5,\yy+2.4) and (\xx+0.5,\yy+0.6) .. (\xx+2.5,\yy+2.6);
  }
}
% axis titles
\node[rotate=90, font={\spacedfont\fontsize{6}{7}\selectfont}] at (7,205) {TRANSMITTANCE};
\node[font={\spacedfontb\fontsize{7.5}{9}\selectfont}] at (103,4.5) {VELOCITY, mm/sec};
\end{tikzpicture}
\end{document}
